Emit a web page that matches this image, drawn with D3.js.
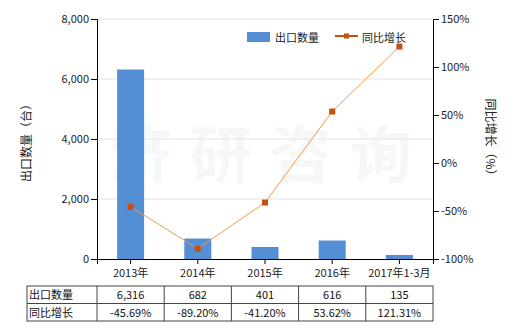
<!DOCTYPE html>
<html>
<head>
<meta charset="utf-8">
<script src="https://cdn.jsdelivr.net/npm/d3@7"></script>
<style>
  body { margin: 0; background: #fff; }
  svg text { font-family: "Noto Sans CJK SC", "DejaVu Sans", sans-serif; }
</style>
</head>
<body>
<div id="chart"></div>
<script>
// data
var categories = ["2013年", "2014年", "2015年", "2016年", "2017年1-3月"];
var exportQty = [6316, 682, 401, 616, 135];
var growth = [-45.69, -89.20, -41.20, 53.62, 121.31];
var qtyLabels = ["6,316", "682", "401", "616", "135"];
var growthLabels = ["-45.69%", "-89.20%", "-41.20%", "53.62%", "121.31%"];
var leftTicks = [0, 2000, 4000, 6000, 8000];
var rightTicks = [-100, -50, 0, 50, 100, 150];

var svgWidth = 520;
var svgHeight = 330;

var margin = { top: 19, right: 87, bottom: 71, left: 97 };
var width = svgWidth - margin.left - margin.right;
var height = svgHeight - margin.top - margin.bottom;

var svg = d3.select("#chart")
  .append("svg").attr("width", svgWidth).attr("height", svgHeight);

// watermark
svg.append("text")
  .attr("x", 270).attr("y", 178)
  .attr("text-anchor", "middle")
  .attr("font-size", 62)
  .attr("font-weight", "bold")
  .attr("fill", "#f6f8f8")
  .attr("letter-spacing", 18)
  .text("济研咨询");

var chartGroup = svg.append("g")
  .attr("transform", `translate(${margin.left}, ${margin.top})`);

var xScale = d3.scaleBand().domain(categories).range([0, width]);
var yLeft = d3.scaleLinear().domain([0, 8000]).range([height, 0]);
var yRight = d3.scaleLinear().domain([-100, 150]).range([height, 0]);

// grid
chartGroup.selectAll(".grid")
  .data(leftTicks.slice(1))
  .enter().append("line")
  .attr("x1", 0).attr("x2", width)
  .attr("y1", d => yLeft(d)).attr("y2", d => yLeft(d))
  .attr("stroke", "#e3e3e3");

// bars
chartGroup.selectAll(".bar")
  .data(exportQty)
  .enter().append("rect")
  .attr("x", (d, i) => xScale(categories[i]) + xScale.bandwidth() / 2 - 13.5)
  .attr("width", 27)
  .attr("y", d => yLeft(d))
  .attr("height", d => height - yLeft(d))
  .attr("fill", "#548fd6");

// line
var line = d3.line()
  .x((d, i) => xScale(categories[i]) + xScale.bandwidth() / 2)
  .y(d => yRight(d));

chartGroup.append("path")
  .datum(growth)
  .attr("d", line)
  .attr("fill", "none")
  .attr("stroke", "#f09a4a")
  .attr("stroke-width", 1);

chartGroup.selectAll(".mk")
  .data(growth)
  .enter().append("rect")
  .attr("x", (d, i) => xScale(categories[i]) + xScale.bandwidth() / 2 - 3)
  .attr("y", d => yRight(d) - 3)
  .attr("width", 6).attr("height", 6)
  .attr("fill", "#c5500f");

// axes
var leftAxis = d3.axisLeft(yLeft).tickValues(leftTicks).tickSize(6).tickFormat(d3.format(","));
var rightAxis = d3.axisRight(yRight).tickValues(rightTicks).tickSize(6).tickFormat(d => d + "%");
var bottomAxis = d3.axisBottom(xScale).tickSize(5).tickFormat("");

var gl = chartGroup.append("g").call(leftAxis);
var gr = chartGroup.append("g").attr("transform", `translate(${width}, 0)`).call(rightAxis);
var gb = chartGroup.append("g").attr("transform", `translate(0, ${height})`).call(bottomAxis);

[gl, gr, gb].forEach(function(g) {
  g.select(".domain").attr("stroke", "#000");
  g.selectAll(".tick line").attr("stroke", "#000");
  g.selectAll("text").attr("font-size", 11).attr("fill", "#222")
    .style("font-family", "\"Noto Sans CJK SC\", sans-serif");
});
gl.selectAll(".tick text").attr("x", -8);
gr.selectAll(".tick text").attr("x", 8);

// x labels
chartGroup.selectAll(".xlab")
  .data(categories)
  .enter().append("text")
  .attr("x", d => xScale(d) + xScale.bandwidth() / 2)
  .attr("y", height + 18)
  .attr("text-anchor", "middle")
  .attr("font-size", 11)
  .attr("fill", "#222")
  .text(d => d);

// axis titles
svg.append("text")
  .attr("transform", "translate(31, 140) rotate(-90)")
  .attr("text-anchor", "middle")
  .attr("font-size", 12)
  .attr("fill", "#222")
  .text("出口数量（台）");

svg.append("text")
  .attr("transform", "translate(486, 140) rotate(90)")
  .attr("text-anchor", "middle")
  .attr("font-size", 12)
  .attr("fill", "#222")
  .text("同比增长（%）");

// legend
svg.append("rect")
  .attr("x", 247).attr("y", 32).attr("width", 23).attr("height", 10)
  .attr("fill", "#548fd6");
svg.append("text")
  .attr("x", 275).attr("y", 41.5)
  .attr("font-size", 11).attr("fill", "#222")
  .text("出口数量");
svg.append("line")
  .attr("x1", 335).attr("x2", 358).attr("y1", 36).attr("y2", 36)
  .attr("stroke", "#c5500f").attr("stroke-width", 2);
svg.append("rect")
  .attr("x", 344).attr("y", 33.5).attr("width", 5).attr("height", 5)
  .attr("fill", "#c5500f");
svg.append("text")
  .attr("x", 362).attr("y", 41.5)
  .attr("font-size", 11).attr("fill", "#222")
  .text("同比增长");

// data table
var tableTop = 286;
var rowH = 17.5;
var tableLeft = 27;
var table = svg.append("g");
var colEdges = [tableLeft].concat(categories.map(d => margin.left + xScale(d))).concat([margin.left + width]);

table.append("rect")
  .attr("x", tableLeft).attr("y", tableTop)
  .attr("width", margin.left + width - tableLeft).attr("height", rowH * 2)
  .attr("fill", "none").attr("stroke", "#444");
table.append("line")
  .attr("x1", tableLeft).attr("x2", margin.left + width)
  .attr("y1", tableTop + rowH).attr("y2", tableTop + rowH)
  .attr("stroke", "#444");
colEdges.slice(1, -1).forEach(function(x) {
  table.append("line")
    .attr("x1", x).attr("x2", x)
    .attr("y1", tableTop).attr("y2", tableTop + rowH * 2)
    .attr("stroke", "#444");
});

var rows = [["出口数量", qtyLabels], ["同比增长", growthLabels]];
rows.forEach(function(r, ri) {
  var y = tableTop + rowH * ri + 13;
  table.append("text")
    .attr("x", tableLeft + 2).attr("y", y)
    .attr("font-size", 11).attr("fill", "#111")
    .text(r[0]);
  r[1].forEach(function(v, i) {
    table.append("text")
      .attr("x", margin.left + xScale(categories[i]) + xScale.bandwidth() / 2)
      .attr("y", y)
      .attr("text-anchor", "middle")
      .attr("font-size", 11).attr("fill", "#111")
      .text(v);
  });
});
</script>
</body>
</html>
